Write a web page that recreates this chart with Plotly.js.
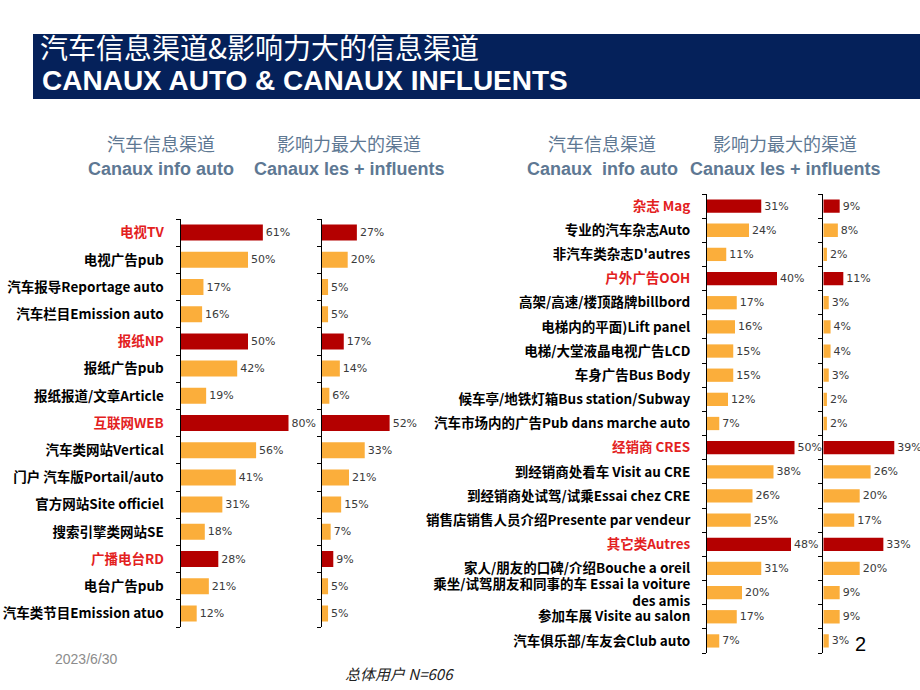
<!DOCTYPE html>
<html>
<head>
<meta charset="utf-8">
<script src="https://cdn.plot.ly/plotly-3.0.1.min.js"></script>
<style>html,body{margin:0;padding:0;background:#fff;}#chart{width:920px;height:690px;}</style>
</head>
<body>
<div id="chart"></div>
<script>
// ---------- DATA ----------
const leftCategories = [
  '电视TV', '电视广告pub', '汽车报导Reportage auto', '汽车栏目Emission auto',
  '报纸NP', '报纸广告pub', '报纸报道/文章Article',
  '互联网WEB', '汽车类网站Vertical', '门户 汽车版Portail/auto', '官方网站Site officiel', '搜索引擎类网站SE',
  '广播电台RD', '电台广告pub', '汽车类节目Emission atuo'
];
const leftInfo      = [61, 50, 17, 16, 50, 42, 19, 80, 56, 41, 31, 18, 28, 21, 12];
const leftInfluent  = [27, 20, 5, 5, 17, 14, 6, 52, 33, 21, 15, 7, 9, 5, 5];
const leftGroups    = ['电视TV', '报纸NP', '互联网WEB', '广播电台RD'];

const rightCategories = [
  '杂志 Mag', '专业的汽车杂志Auto', "非汽车类杂志D'autres",
  '户外广告OOH', '高架/高速/楼顶路牌billbord', '电梯内的平面)Lift panel', '电梯/大堂液晶电视广告LCD',
  '车身广告Bus Body', '候车亭/地铁灯箱Bus station/Subway', '汽车市场内的广告Pub dans marche auto',
  '经销商 CRES', '到经销商处看车 Visit au CRE', '到经销商处试驾/试乘Essai chez CRE', '销售店销售人员介绍Presente par vendeur',
  '其它类Autres', '家人/朋友的口碑/介绍Bouche a oreil', '乘坐/试驾朋友和同事的车 Essai la voiture<br>des amis',
  '参加车展 Visite au salon', '汽车俱乐部/车友会Club auto'
];
const rightInfo     = [31, 24, 11, 40, 17, 16, 15, 15, 12, 7, 50, 38, 26, 25, 48, 31, 20, 17, 7];
const rightInfluent = [9, 8, 2, 11, 3, 4, 4, 3, 2, 2, 39, 26, 20, 17, 33, 20, 9, 9, 3];
const rightGroups   = ['杂志 Mag', '户外广告OOH', '经销商 CRES', '其它类Autres'];

const columnTitlesCN = ['汽车信息渠道', '影响力最大的渠道'];
const columnTitlesFR = ['Canaux info auto', 'Canaux les + influents', 'Canaux\u00a0 info auto'];
const titleCN = '汽车信息渠道&影响力大的信息渠道';
const titleFR = 'CANAUX AUTO & CANAUX INFLUENTS';
const footDate = '2023/6/30';
const footSample = '总体用户 N=606';
const pageNum = '2';

// ---------- STYLE ----------
const RED_BAR = '#B40000';
const ORANGE_BAR = '#FBAE3B';
const RED_TXT = '#E3211E';
const HEAD_COL = '#5E7893';
const W = 920, H = 690;
const px = v => v / W;
const py = v => 1 - v / H;

function colors(cats, groups) { return cats.map(c => groups.includes(c) ? RED_BAR : ORANGE_BAR); }
function labels(cats, groups) {
  return cats.map(c => groups.includes(c) ? '<span style="color:' + RED_TXT + '">' + c + '</span>' : c);
}
function barTrace(cats, vals, groups, xa, ya, w) {
  return {
    type: 'bar', orientation: 'h', y: cats, x: vals,
    xaxis: xa, yaxis: ya, width: w,
    marker: { color: colors(cats, groups), line: { width: 0 } },
    text: vals.map(v => v + '%'), textposition: 'outside', cliponaxis: false,
    constraintext: 'none',
    textfont: { family: 'DejaVu Sans', size: 11, color: '#3a3a3a' },
    hoverinfo: 'skip'
  };
}

const traces = [
  barTrace(leftCategories, leftInfo, leftGroups, 'x', 'y', 0.59),
  barTrace(leftCategories, leftInfluent, leftGroups, 'x2', 'y2', 0.59),
  barTrace(rightCategories, rightInfo, rightGroups, 'x3', 'y3', 0.55),
  barTrace(rightCategories, rightInfluent, rightGroups, 'x4', 'y4', 0.55)
];

function yAx(cats, groups, domain, anchor, showLabels, size) {
  return {
    domain: domain, anchor: anchor, type: 'category', autorange: 'reversed',
    showline: true, linecolor: '#000', linewidth: 1, showgrid: false, zeroline: false,
    ticks: 'outside', ticklen: 4, tickwidth: 1, tickcolor: '#000', tickson: 'boundaries',
    showticklabels: showLabels, tickmode: 'array', tickvals: cats, ticktext: labels(cats, groups),
    ticklabelstandoff: 13,
    tickfont: { family: 'Noto Sans CJK SC', size: size, color: '#000', weight: 'bold' },
    fixedrange: true
  };
}
function xAx(domain, range, anchor) {
  return { domain: domain, range: range, anchor: anchor, visible: false, fixedrange: true };
}

const leftDom = [py(627), py(219)];
const rightDom = [py(653), py(194)];

const ann = [];
function addText(text, x, y, xanchor, font) {
  ann.push({ text: text, x: px(x), y: py(y), xref: 'paper', yref: 'paper', xanchor: xanchor, yanchor: 'middle', showarrow: false, borderpad: 0, font: font });
}
const cnHead = { family: 'Noto Sans CJK SC', size: 18, color: HEAD_COL };
const frHead = { family: 'Liberation Sans', size: 18, color: HEAD_COL, weight: 'bold' };
addText(columnTitlesCN[0], 161, 143, 'center', cnHead);
addText(columnTitlesFR[0], 161, 169, 'center', frHead);
addText(columnTitlesCN[1], 349, 143, 'center', cnHead);
addText(columnTitlesFR[1], 349, 169, 'center', frHead);
addText(columnTitlesCN[0], 602, 143, 'center', cnHead);
addText(columnTitlesFR[2], 602, 169, 'center', frHead);
addText(columnTitlesCN[1], 785, 143, 'center', cnHead);
addText(columnTitlesFR[1], 785, 169, 'center', frHead);
addText(titleCN, 39, 47, 'left', { family: 'Noto Sans CJK SC', size: 28, color: '#fff' });
addText(titleFR, 41, 81, 'left', { family: 'Liberation Sans', size: 28, color: '#fff', weight: 'bold' });
addText(footDate, 54, 659, 'left', { family: 'Liberation Sans', size: 14, color: '#8c8c8c' });
addText(footSample, 344, 673, 'left', { family: 'Noto Sans CJK SC', size: 15, color: '#222', style: 'italic' });
addText(pageNum, 854, 644, 'left', { family: 'Liberation Sans', size: 20, color: '#000' });

const layout = {
  width: W, height: H, margin: { l: 0, r: 0, t: 0, b: 0, pad: 0 },
  paper_bgcolor: '#fff', plot_bgcolor: 'rgba(0,0,0,0)', showlegend: false,
  xaxis:  xAx([px(180.5), px(315.5)], [0, 100], 'y'),
  xaxis2: xAx([px(321.5), px(400.1)], [0, 60], 'y2'),
  xaxis3: xAx([px(707), px(812)], [0, 60], 'y3'),
  xaxis4: xAx([px(823.3), px(914.3)], [0, 50], 'y4'),
  yaxis:  yAx(leftCategories, leftGroups, leftDom, 'x', true, 13.5),
  yaxis2: yAx(leftCategories, leftGroups, leftDom, 'x2', false, 13.5),
  yaxis3: yAx(rightCategories, rightGroups, rightDom, 'x3', true, 13.5),
  yaxis4: yAx(rightCategories, rightGroups, rightDom, 'x4', false, 13.5),
  shapes: [{ type: 'rect', xref: 'paper', yref: 'paper', x0: px(33), x1: 1, y0: py(99), y1: py(34), fillcolor: '#05215A', line: { width: 0 }, layer: 'below' }],
  annotations: ann
};

Plotly.newPlot('chart', traces, layout, { staticPlot: true, displayModeBar: false });
</script>
</body>
</html>
